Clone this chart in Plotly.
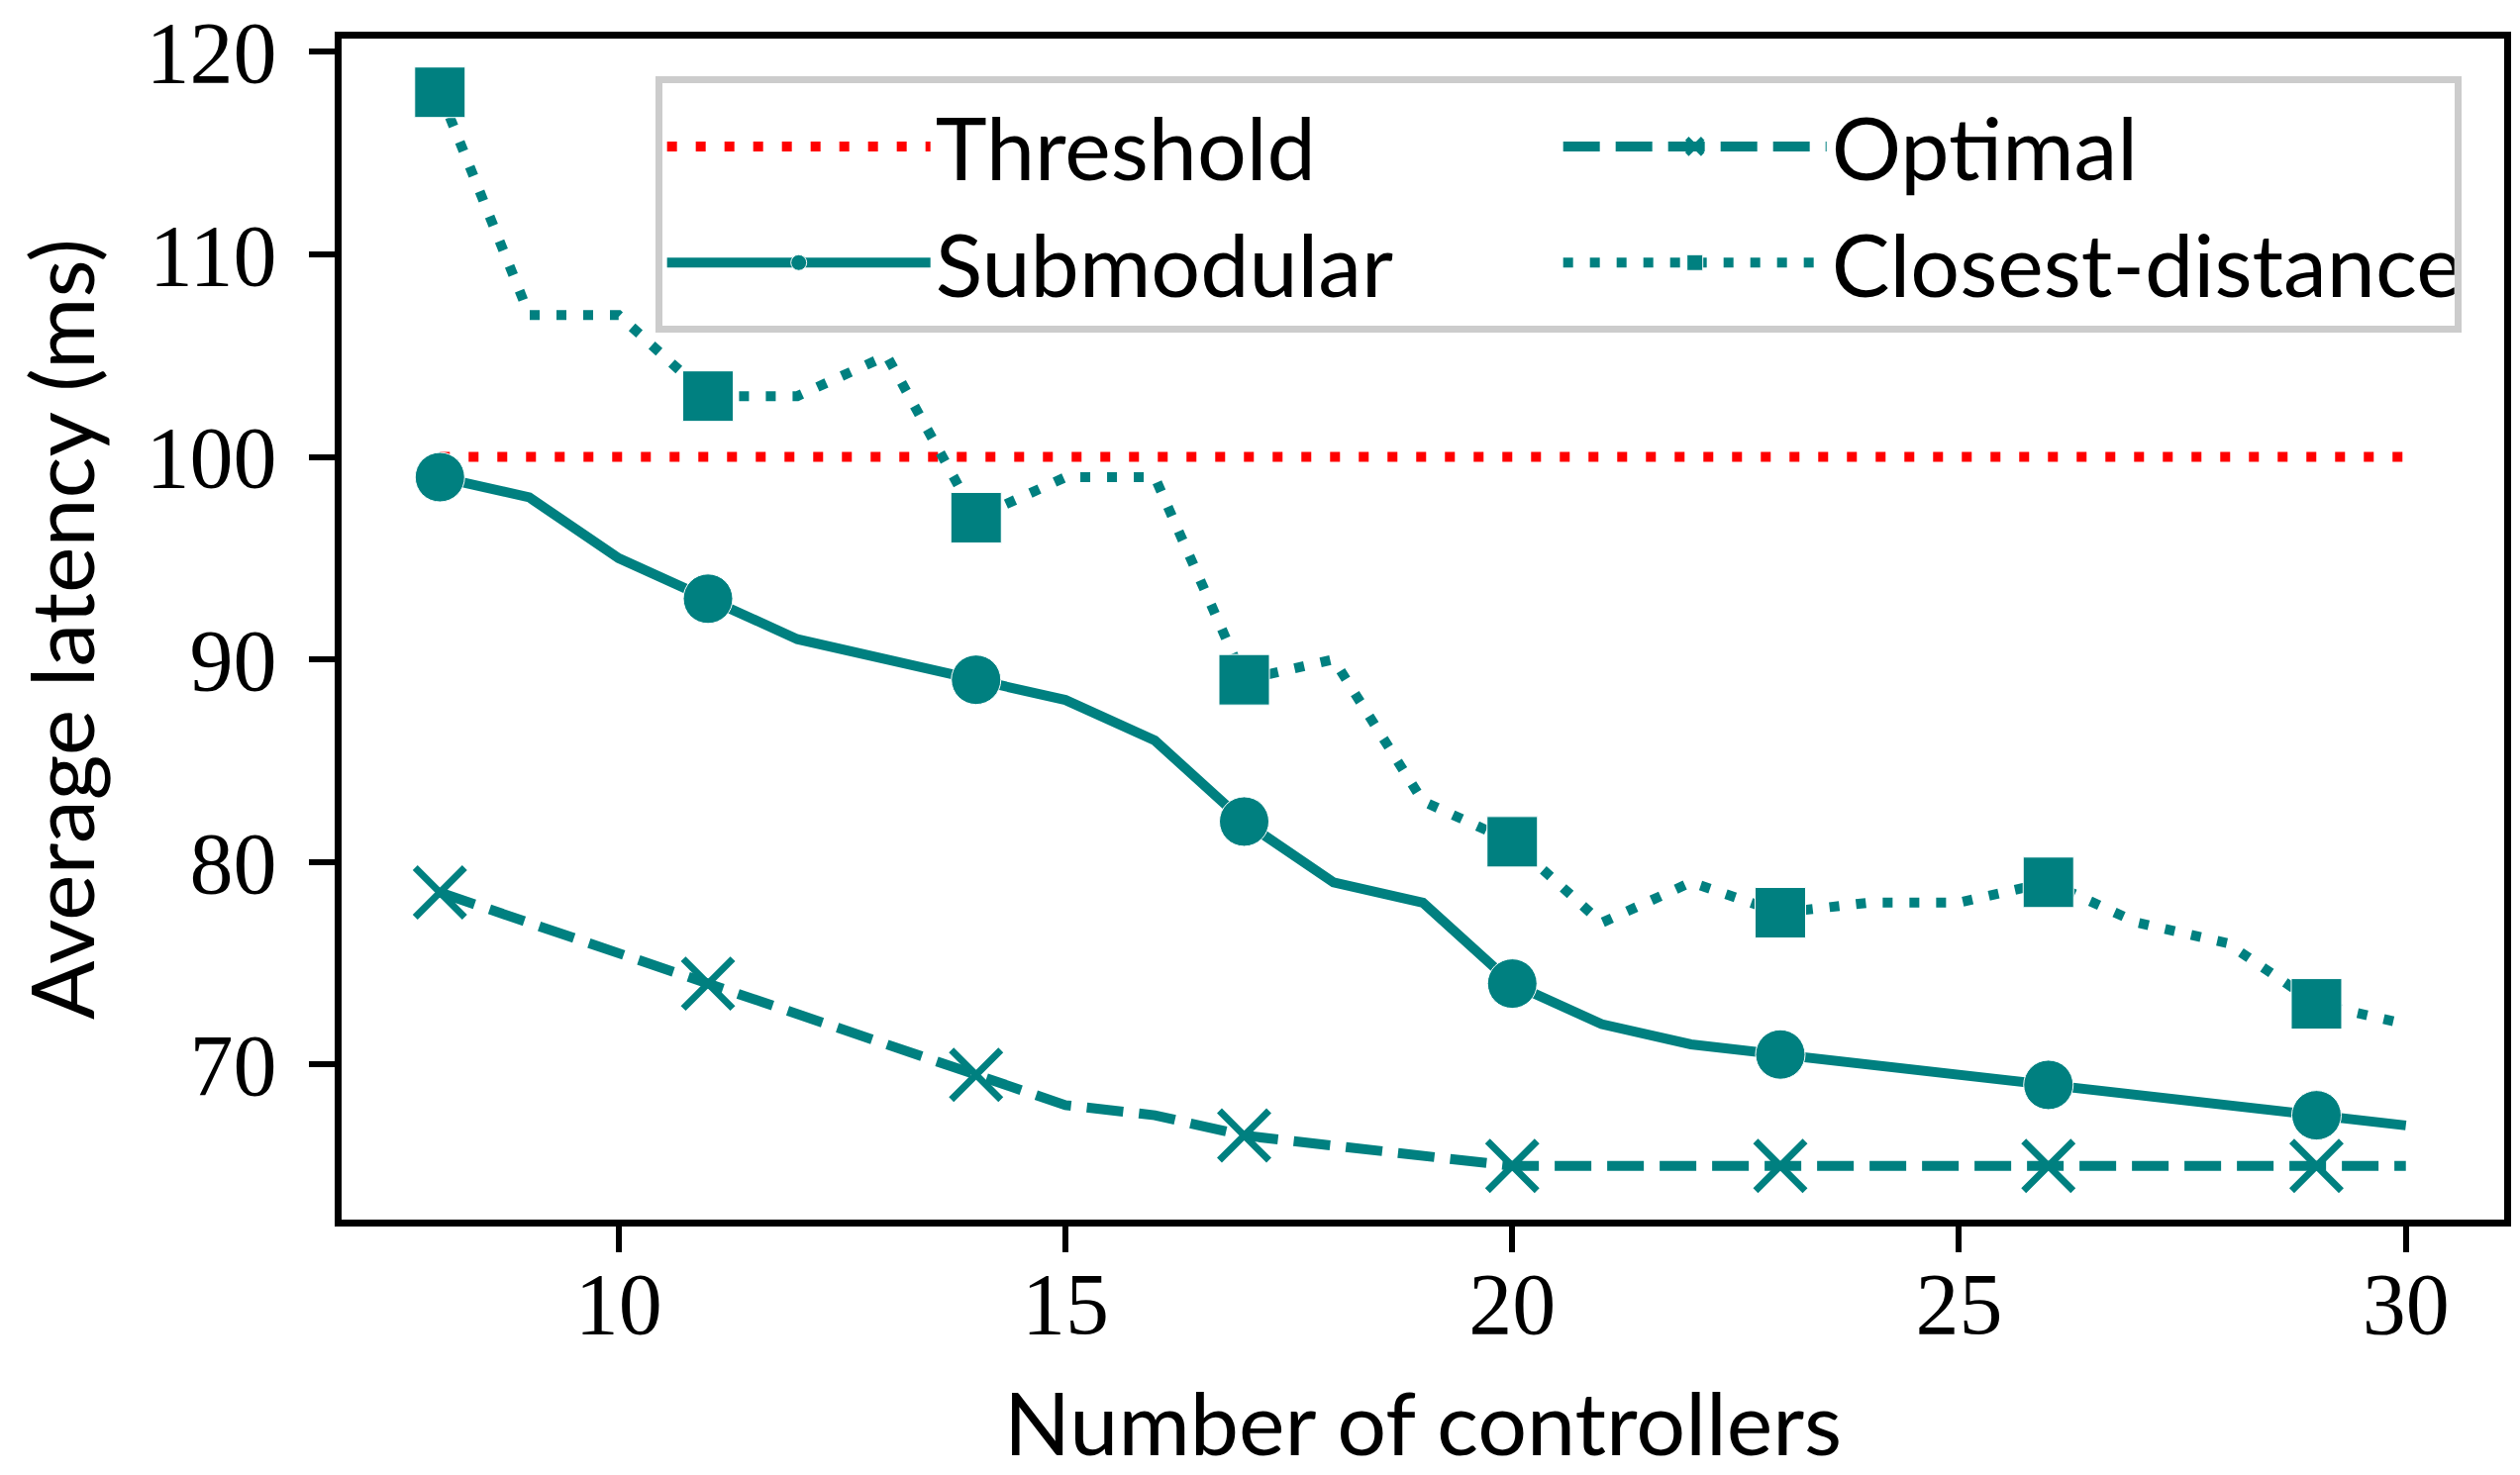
import plotly.graph_objects as go

# ---- data ----
controllers = [8, 9, 10, 11, 12, 13, 14, 15, 16, 17, 18, 19, 20, 21, 22, 23, 24, 25, 26, 27, 28, 29, 30]
submodular = [99, 98, 95, 93, 91, 90, 89, 88, 86, 82, 79, 78, 74, 72, 71, 70.5, 70, 69.5, 69, 68.5, 68, 67.5, 67]
optimal = [78.5, 77, 75.5, 74, 72.5, 71, 69.5, 68, 67.5, 66.5, 66, 65.5, 65, 65, 65, 65, 65, 65, 65, 65, 65, 65, 65]
closest = [118, 107, 107, 103, 103, 105, 97, 99, 99, 89, 90, 83, 81, 77, 79, 77.5, 78, 78, 79, 77, 76, 73, 72]
threshold_x = [8, 30]
threshold_y = [100, 100]
x_ticks = [10, 15, 20, 25, 30]
y_ticks = [70, 80, 90, 100, 110, 120]
mark_every = 3

TEAL = "#008080"
SANS = "Lato"
SERIF = "Liberation Serif"


def sizes(n, s):
    return [s if i % mark_every == 0 else 0 for i in range(n)]


fig = go.Figure()
fig.add_trace(go.Scatter(
    x=threshold_x, y=threshold_y, mode="lines", name="Threshold",
    line=dict(color="red", width=10, dash="10px,19px")))
fig.add_trace(go.Scatter(
    x=controllers, y=optimal, mode="lines+markers", name="Optimal",
    line=dict(color=TEAL, width=10, dash="37px,16px"),
    marker=dict(symbol="x-thin", size=sizes(len(controllers), 50), color=TEAL, opacity=1,
                line=dict(color=TEAL, width=7))))
fig.add_trace(go.Scatter(
    x=controllers, y=submodular, mode="lines+markers", name="Submodular",
    line=dict(color=TEAL, width=10),
    marker=dict(symbol="circle", size=sizes(len(controllers), 50), color=TEAL, opacity=1)))
fig.add_trace(go.Scatter(
    x=controllers, y=closest, mode="lines+markers", name="Closest-distance",
    line=dict(color=TEAL, width=10, dash="10px,17px"),
    marker=dict(symbol="square", size=sizes(len(controllers), 51), color=TEAL, opacity=1)))

axis_common = dict(
    showline=True, linecolor="black", linewidth=7, mirror=True,
    ticks="outside", ticklen=26, tickwidth=6, tickcolor="black",
    showgrid=False, zeroline=False, ticklabeloverflow="allow", automargin=False,
    tickfont=dict(family=SERIF, size=88, color="black"),
)

fig.update_layout(
    width=2537, height=1482,
    paper_bgcolor="white", plot_bgcolor="white",
    margin=dict(l=337, r=16, t=31, b=258),
    xaxis=dict(range=[6.9, 31.1], tickvals=x_ticks, ticklabelstandoff=-24,
               title=dict(text="Number of controllers", font=dict(family=SANS, size=88, color="black"), standoff=46),
               **axis_common),
    yaxis=dict(range=[62.35, 120.65], tickvals=y_ticks, ticklabelstandoff=15,
               title=dict(text="Average latency (ms)", font=dict(family=SANS, size=88, color="black"), standoff=30),
               **axis_common),
    legend=dict(
        orientation="h", x=0.145, y=0.968, xanchor="left", yanchor="top",
        bgcolor="rgba(255,255,255,0.8)", bordercolor="#cccccc", borderwidth=7,
        font=dict(family=SANS, size=88, color="black"),
        entrywidth=624, entrywidthmode="pixels", itemwidth=266,
        traceorder="normal",
    ),
    showlegend=True,
)

fig.write_html("out.html")
